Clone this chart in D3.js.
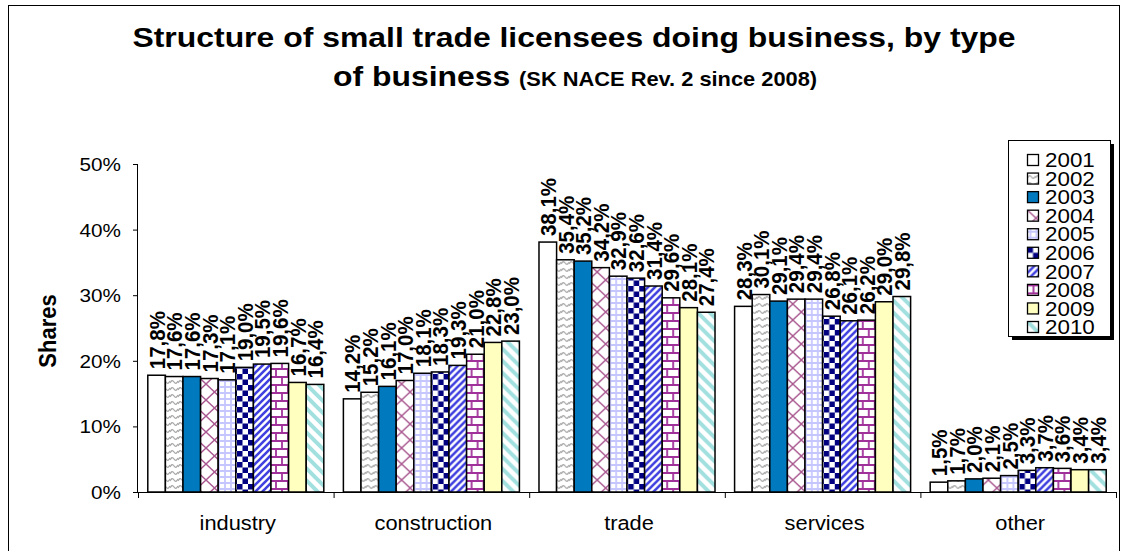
<!DOCTYPE html>
<html>
<head>
<meta charset="utf-8">
<script src="https://cdn.jsdelivr.net/npm/d3@7"></script>
<style>
  html, body { margin: 0; padding: 0; background: #fff; }
  svg text { font-family: Arial, "Liberation Sans", sans-serif; fill: #000; }
</style>
</head>
<body>
<svg id="chart" width="1128" height="551"></svg>
<script>
// Shares of small trade licensees by type of business, 2001-2010 (%)
const categories = ["industry", "construction", "trade", "services", "other"];
const years = ["2001", "2002", "2003", "2004", "2005", "2006", "2007", "2008", "2009", "2010"];
const industry     = [17.8, 17.6, 17.6, 17.3, 17.1, 19.0, 19.5, 19.6, 16.7, 16.4];
const construction = [14.2, 15.2, 16.1, 17.0, 18.1, 18.3, 19.3, 21.0, 22.8, 23.0];
const trade        = [38.1, 35.4, 35.2, 34.2, 32.9, 32.6, 31.4, 29.6, 28.1, 27.4];
const services     = [28.3, 30.1, 29.1, 29.4, 29.4, 26.8, 26.1, 26.2, 29.0, 29.8];
const other        = [1.5, 1.7, 2.0, 2.1, 2.5, 3.3, 3.7, 3.6, 3.4, 3.4];
const yTicks = [0, 10, 20, 30, 40, 50];

const seriesByCategory = { industry, construction, trade, services, other };

const svg = d3.select("#chart");
const SX = 1.12; // slightly wide lettering

// outer frame
svg.append("rect")
  .attr("x", 8.5).attr("y", 5.5).attr("width", 1111).attr("height", 560)
  .attr("fill", "#fff").attr("stroke", "#000").attr("stroke-width", 1);

// ---------- fill patterns ----------
const defs = svg.append("defs");
function pat(id, w, h, draw) {
  const p = defs.append("pattern").attr("id", id)
    .attr("patternUnits", "userSpaceOnUse").attr("width", w).attr("height", h);
  p.append("rect").attr("width", w).attr("height", h).attr("fill", "#fff");
  draw(p);
}
pat("p2001", 4, 4, p => {});
pat("p2002", 8, 7, p => {
  p.append("path").attr("d", "M0,5 Q2,1 4,4 Q6,7 8,3")
    .attr("fill", "none").attr("stroke", "#a8a8a8").attr("stroke-width", 1.3);
});
pat("p2003", 4, 4, p => p.append("rect").attr("width", 4).attr("height", 4).attr("fill", "#0079BE"));
pat("p2004", 17, 16, p => {
  p.append("path").attr("d", "M0,0 L17,16 M17,0 L0,16")
    .attr("stroke", "#a8578f").attr("stroke-width", 1.4);
});
pat("p2005", 6, 6, p => {
  p.append("path").attr("d", "M3,0 V6 M0,3 H6")
    .attr("stroke", "#c6c6ff").attr("stroke-width", 1.8);
});
pat("p2006", 11, 11, p => {
  p.append("rect").attr("x", 0).attr("y", 0).attr("width", 5.5).attr("height", 5.5).attr("fill", "#000080");
  p.append("rect").attr("x", 5.5).attr("y", 5.5).attr("width", 5.5).attr("height", 5.5).attr("fill", "#000080");
});
pat("p2007", 7, 7, p => {
  p.append("path").attr("d", "M-2,9 L9,-2 M-2,2 L2,-2 M5,9 L9,5")
    .attr("stroke", "#4040e0").attr("stroke-width", 2.6);
});
pat("p2008", 12, 16, p => {
  p.append("path").attr("d", "M0,1 H12 M0,9 H12 M6,1 V9 M0,9 V16 M12,9 V16")
    .attr("stroke", "#a0309a").attr("stroke-width", 1.8);
});
pat("p2009", 4, 4, p => p.append("rect").attr("width", 4).attr("height", 4).attr("fill", "#FFFFC0"));
pat("p2010", 12, 12, p => {
  p.append("path").attr("d", "M-3,-3 L15,15 M-3,9 L3,15 M9,-3 L15,3")
    .attr("stroke", "#a2e0e0").attr("stroke-width", 4);
});

// ---------- scales ----------
const x0 = d3.scaleBand().domain(categories).range([138, 1116]).padding(0);
const x1 = d3.scaleBand().domain(years).range([0, x0.bandwidth()])
  .paddingInner(0).paddingOuter(0.556);
const y = d3.scaleLinear().domain([0, 50]).range([492, 164]);

// ---------- title ----------
svg.append("text")
  .attr("transform", `translate(574,47) scale(${SX},1)`)
  .attr("text-anchor", "middle").attr("font-size", 28.5).attr("font-weight", "bold")
  .text("Structure of small trade licensees doing business, by type");
const t2 = svg.append("text")
  .attr("transform", `translate(575,86) scale(${SX},1)`)
  .attr("text-anchor", "middle").attr("font-weight", "bold");
t2.append("tspan").attr("font-size", 28.5).text("of business ");
t2.append("tspan").attr("font-size", 19.5).text("(SK NACE Rev. 2 since 2008)");

// ---------- bars ----------
const groups = svg.append("g").selectAll("g")
  .data(categories).join("g")
  .attr("transform", c => `translate(${x0(c)},0)`);

groups.selectAll("rect")
  .data(c => seriesByCategory[c].map((v, i) => ({ year: years[i], v })))
  .join("rect")
  .attr("x", d => x1(d.year))
  .attr("y", d => y(d.v))
  .attr("width", x1.bandwidth())
  .attr("height", d => y(0) - y(d.v))
  .attr("fill", d => `url(#p${d.year})`)
  .attr("stroke", "#000").attr("stroke-width", 1.5);

// value labels, vertical
const fmt = v => v.toFixed(1).replace(".", ",") + "%";
groups.selectAll("text.val")
  .data(c => seriesByCategory[c].map((v, i) => ({ year: years[i], v })))
  .join("text").attr("class", "val")
  .attr("transform", d => `translate(${x1(d.year) + x1.bandwidth() / 2},${y(d.v) - 6}) scale(${SX},1) rotate(-90)`)
  .attr("dy", "0.36em")
  .attr("font-size", 20.5).attr("font-weight", "bold")
  .text(d => fmt(d.v));

// ---------- axes ----------
const yAxis = svg.append("g").attr("transform", "translate(138,0)")
  .call(d3.axisLeft(y).tickValues(yTicks).tickSize(5).tickFormat(d => d + "%"));
yAxis.select(".domain").attr("stroke", "#000").attr("d", `M-0.5,${y(50)}V${y(0)}`);
yAxis.selectAll(".tick line").attr("stroke", "#000");
yAxis.selectAll(".tick text").remove();
yAxis.selectAll(".tick").append("text")
  .attr("transform", `translate(-17,0) scale(${SX},1)`)
  .attr("text-anchor", "end").attr("dy", "0.35em")
  .attr("font-size", 18.5).text(d => d + "%");

// category axis with ticks at group boundaries
const xAxisG = svg.append("g").attr("transform", `translate(0,${y(0)})`);
xAxisG.append("line").attr("x1", 138).attr("x2", 1116).attr("y1", 0.5).attr("y2", 0.5)
  .attr("stroke", "#000");
const bounds = categories.map(c => x0(c)).concat([x0.range()[1]]);
xAxisG.selectAll("line.tk").data(bounds).join("line").attr("class", "tk")
  .attr("x1", d => d + 0.5).attr("x2", d => d + 0.5).attr("y1", 0).attr("y2", 6)
  .attr("stroke", "#000");
xAxisG.selectAll("text.cat").data(categories).join("text").attr("class", "cat")
  .attr("transform", c => `translate(${x0(c) + x0.bandwidth() / 2 + 2},38) scale(${SX},1)`)
  .attr("text-anchor", "middle").attr("font-size", 19.5)
  .text(c => c);

// y-axis title
svg.append("text")
  .attr("transform", `translate(47,${(y(0) + y(50)) / 2 + 3}) scale(${SX},1) rotate(-90)`)
  .attr("text-anchor", "middle").attr("dy", "0.35em")
  .attr("font-size", 22).attr("font-weight", "bold")
  .text("Shares");

// ---------- legend ----------
const lg = svg.append("g").attr("transform", "translate(1008,140)");
lg.append("rect").attr("x", 4).attr("y", 4).attr("width", 102).attr("height", 196).attr("fill", "#000");
lg.append("rect").attr("x", 0.5).attr("y", 0.5).attr("width", 102).attr("height", 196)
  .attr("fill", "#fff").attr("stroke", "#000");
const rowY = d3.scalePoint().domain(years).range([20, 187]);
const items = lg.selectAll("g.item").data(years).join("g").attr("class", "item")
  .attr("transform", d => `translate(19.5,${rowY(d) - 5.5})`);
items.append("rect").attr("x", 0).attr("y", 0).attr("width", 11).attr("height", 11)
  .attr("fill", d => `url(#p${d})`).attr("stroke", "#000").attr("stroke-width", 1.3);
items.append("text")
  .attr("transform", `translate(17.5,5.5) scale(${SX},1)`)
  .attr("dy", "0.36em").attr("font-size", 20)
  .text(d => d);
</script>
</body>
</html>
